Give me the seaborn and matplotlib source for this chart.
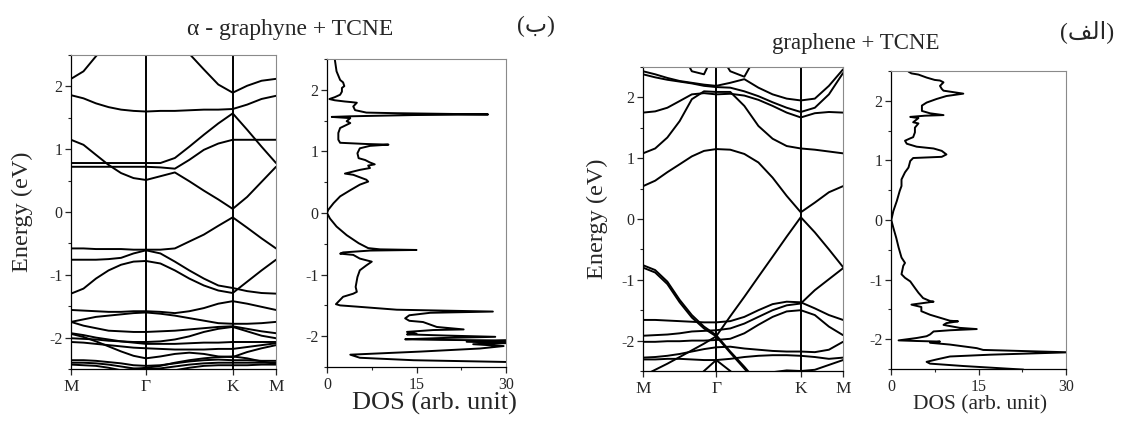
import matplotlib
matplotlib.use("Agg")
import matplotlib.pyplot as plt
import seaborn as sns
import pandas as pd
from matplotlib.ticker import MultipleLocator, NullLocator

# ---------------- data ----------------
# k-path sampling (M -> Gamma -> K -> M), path length units
K_GRID = [0.000, 0.096, 0.192, 0.289, 0.385, 0.481, 0.577,
          0.688, 0.799, 0.910, 1.022, 1.133, 1.244,
          1.355, 1.466, 1.577]
K_TICKS = [0.000, 0.577, 1.244, 1.577]
K_LABELS = ["M", "Γ", "K", "M"]

# alpha-graphyne + TCNE bands (eV)
GY_U1 = [2.12, 2.24, 2.48, 2.70, 2.90, 3.00, 3.05, 3.00, 2.80, 2.52, 2.27, 2.03, 1.90, 2.01, 2.09, 2.12]
GY_U2 = [1.86, 1.81, 1.73, 1.67, 1.63, 1.61, 1.60, 1.61, 1.61, 1.62, 1.63, 1.63, 1.64, 1.71, 1.80, 1.85]
GY_U3 = [0.78, 0.78, 0.78, 0.78, 0.78, 0.78, 0.78, 0.78, 0.86, 1.04, 1.23, 1.41, 1.57, 1.31, 1.04, 0.78]
GY_U4 = [0.72, 0.72, 0.72, 0.72, 0.72, 0.72, 0.72, 0.71, 0.69, 0.83, 0.99, 1.09, 1.15, 1.15, 1.15, 1.15]
GY_U5 = [1.15, 1.07, 0.91, 0.75, 0.62, 0.54, 0.51, 0.57, 0.63, 0.49, 0.34, 0.20, 0.05, 0.24, 0.48, 0.72]
GY_L1 = [-0.58, -0.58, -0.59, -0.59, -0.59, -0.60, -0.60, -0.60, -0.58, -0.47, -0.36, -0.22, -0.085, -0.25, -0.42, -0.58]
GY_L2 = [-0.76, -0.76, -0.76, -0.75, -0.73, -0.66, -0.61, -0.66, -0.79, -0.93, -1.06, -1.17, -1.21, -1.26, -1.29, -1.30]
GY_L3 = [-1.30, -1.22, -1.06, -0.93, -0.84, -0.79, -0.78, -0.82, -0.93, -1.06, -1.17, -1.25, -1.29, -1.11, -0.93, -0.76]
GY_L4 = [-1.56, -1.57, -1.58, -1.59, -1.59, -1.58, -1.58, -1.59, -1.61, -1.58, -1.53, -1.46, -1.42, -1.46, -1.51, -1.56]
GY_L5 = [-1.75, -1.71, -1.67, -1.65, -1.63, -1.61, -1.60, -1.62, -1.65, -1.69, -1.73, -1.77, -1.78, -1.78, -1.77, -1.75]
GY_L6 = [-1.75, -1.81, -1.85, -1.89, -1.90, -1.91, -1.91, -1.90, -1.89, -1.87, -1.85, -1.83, -1.82, -1.86, -1.90, -1.93]
GY_L7 = [-1.93, -1.96, -2.00, -2.03, -2.06, -2.07, -2.07, -2.06, -2.03, -1.98, -1.91, -1.86, -1.83, -1.90, -1.97, -2.01]
GY_L8 = [-2.01, -2.02, -2.03, -2.05, -2.06, -2.08, -2.10, -2.10, -2.10, -2.09, -2.08, -2.08, -2.07, -2.07, -2.07, -2.07]
GY_L9 = [-2.07, -2.08, -2.10, -2.12, -2.14, -2.16, -2.17, -2.18, -2.19, -2.19, -2.19, -2.18, -2.18, -2.15, -2.12, -2.09]
GY_L10 = [-1.94, -1.99, -2.06, -2.14, -2.22, -2.29, -2.33, -2.30, -2.26, -2.24, -2.26, -2.30, -2.31, -2.23, -2.17, -2.12]
GY_L11 = [-2.36, -2.36, -2.37, -2.39, -2.41, -2.44, -2.45, -2.44, -2.41, -2.38, -2.36, -2.35, -2.36, -2.36, -2.37, -2.37]
GY_L12 = [-2.40, -2.40, -2.41, -2.43, -2.46, -2.49, -2.50, -2.49, -2.46, -2.43, -2.41, -2.40, -2.40, -2.40, -2.40, -2.40]
GY_L13 = [-2.43, -2.44, -2.45, -2.48, -2.52, -2.56, -2.58, -2.56, -2.52, -2.48, -2.45, -2.44, -2.44, -2.44, -2.43, -2.43]
GY_L14 = [-2.60, -2.60, -2.58, -2.55, -2.52, -2.50, -2.48, -2.45, -2.40, -2.36, -2.33, -2.31, -2.30, -2.33, -2.38, -2.42]

# graphene + TCNE bands (eV)
GR_C1 = [0.54, 0.63, 0.77, 0.90, 1.03, 1.12, 1.15, 1.14, 1.07, 0.93, 0.68, 0.38, 0.11, 0.27, 0.44, 0.54]
GR_C2 = [1.08, 1.16, 1.34, 1.61, 1.97, 2.10, 2.09, 2.09, 1.86, 1.53, 1.32, 1.20, 1.16, 1.14, 1.11, 1.08]
GR_C3 = [1.75, 1.77, 1.83, 1.94, 2.05, 2.07, 2.05, 2.06, 2.03, 1.96, 1.86, 1.75, 1.67, 1.74, 1.76, 1.75]
GR_C4 = [2.38, 2.33, 2.29, 2.26, 2.23, 2.19, 2.17, 2.16, 2.10, 2.02, 1.92, 1.83, 1.76, 1.83, 2.05, 2.40]
GR_C5 = [2.43, 2.38, 2.32, 2.27, 2.24, 2.21, 2.19, 2.24, 2.30, 2.16, 2.05, 1.98, 1.95, 1.98, 2.19, 2.46]
GR_C6 = [3.00, 3.00, 3.00, 2.80, 2.43, 2.38, 2.80, 2.43, 2.34, 2.75, 3.00, 3.00, 3.00, 3.00, 3.00, 3.00]
GR_V1 = [-2.58, -2.48, -2.38, -2.27, -2.16, -2.05, -1.93, -1.60, -1.28, -0.95, -0.62, -0.29, 0.03, -0.22, -0.50, -0.79]
GR_V2 = [-0.76, -0.84, -1.03, -1.33, -1.58, -1.77, -1.91, -2.18, -2.43, -2.70, -2.90, -3.00, -3.00, -3.00, -3.00, -3.00]
GR_V2B = [-0.80, -0.88, -1.07, -1.37, -1.62, -1.80, -1.93, -2.20, -2.46, -2.72, -2.92, -3.00, -3.00, -3.00, -3.00, -3.00]
GR_V3 = [-1.92, -1.91, -1.90, -1.88, -1.85, -1.84, -1.83, -1.80, -1.72, -1.61, -1.50, -1.42, -1.39, -1.17, -0.99, -0.81]
GR_V4 = [-1.66, -1.66, -1.67, -1.68, -1.69, -1.70, -1.70, -1.68, -1.61, -1.50, -1.40, -1.36, -1.37, -1.47, -1.58, -1.66]
GR_V5 = [-2.02, -2.02, -2.01, -2.01, -2.00, -2.00, -1.99, -1.97, -1.88, -1.74, -1.61, -1.52, -1.50, -1.58, -1.77, -1.91]
GR_V6 = [-2.28, -2.27, -2.25, -2.22, -2.18, -2.14, -2.11, -2.10, -2.13, -2.15, -2.17, -2.18, -2.18, -2.19, -2.15, -2.02]
GR_V7 = [-2.31, -2.31, -2.30, -2.30, -2.31, -2.32, -2.32, -2.30, -2.27, -2.25, -2.24, -2.24, -2.25, -2.27, -2.30, -2.28]
GR_V8 = [-3.00, -3.00, -3.00, -2.90, -2.70, -2.50, -2.32, -2.50, -2.70, -2.90, -3.00, -3.00, -3.00, -3.00, -3.00, -3.00]
GR_V9 = [-2.70, -2.70, -2.68, -2.65, -2.62, -2.58, -2.55, -2.57, -2.58, -2.57, -2.52, -2.49, -2.50, -2.48, -2.40, -2.32]

# DOS curves (energy, DOS)
GY_DOS_E = [2.50, 2.30, 2.16, 2.12, 2.06, 2.03, 1.97, 1.92, 1.88, 1.85,
            1.83, 1.81, 1.80, 1.79, 1.73, 1.67, 1.63, 1.62, 1.60, 1.59,
            1.57, 1.56, 1.54, 1.49, 1.46, 1.38, 1.30, 1.19, 1.14, 1.12,
            1.11, 1.09, 1.05, 0.97, 0.89, 0.86, 0.82, 0.79, 0.77, 0.73,
            0.70, 0.64, 0.62, 0.54, 0.51, 0.46, 0.37, 0.27, 0.16, 0.05,
            0.00, -0.09, -0.22, -0.36, -0.49, -0.57, -0.59, -0.60, -0.61, -0.64,
            -0.66, -0.68, -0.74, -0.79, -0.85, -0.93, -1.04, -1.20, -1.28, -1.31,
            -1.36, -1.44, -1.48, -1.50, -1.52, -1.57, -1.60, -1.62, -1.66, -1.71,
            -1.75, -1.77, -1.85, -1.89, -1.90, -1.93, -1.96, -1.97, -1.99, -2.01,
            -2.03, -2.05, -2.06, -2.07, -2.09, -2.11, -2.13, -2.16, -2.20, -2.25,
            -2.30, -2.35, -2.39, -2.42, -2.50]
GY_DOS = [1.3, 1.6, 2.2, 2.7, 2.9, 2.5, 2.5, 2.2, 1.3, 0.4,
          1.3, 3.0, 4.1, 5.0, 4.4, 4.7, 6.6, 11.7, 27.0, 14.5,
          3.9, 0.8, 3.9, 3.3, 3.9, 2.2, 1.9, 1.9, 2.2, 6.6,
          10.3, 7.2, 5.5, 5.1, 5.3, 6.4, 7.2, 8.0, 6.9, 7.2,
          5.5, 3.0, 4.4, 6.6, 6.9, 5.5, 3.9, 2.2, 1.1, 0.2,
          0.0, 0.5, 1.6, 3.3, 5.3, 6.9, 8.9, 15.0, 7.2, 2.7,
          2.2, 4.4, 5.5, 7.5, 6.6, 5.5, 5.1, 4.8, 5.0, 4.4,
          2.7, 1.9, 1.5, 2.2, 5.0, 11.7, 27.8, 17.3, 13.8, 13.1,
          13.8, 16.1, 18.4, 22.9, 17.8, 13.4, 15.0, 13.4, 20.1, 28.2,
          19.0, 13.1, 19.0, 31.0, 23.4, 31.0, 24.5, 29.6, 25.6, 15.6,
          3.9, 5.5, 14.5, 31.0, 31.0]

GR_DOS_E = [2.49, 2.46, 2.44, 2.39, 2.35, 2.34, 2.31, 2.25, 2.20, 2.17,
            2.12, 2.08, 2.03, 1.97, 1.92, 1.83, 1.79, 1.76, 1.75, 1.73,
            1.71, 1.64, 1.62, 1.55, 1.47, 1.39, 1.37, 1.33, 1.28, 1.23,
            1.20, 1.16, 1.10, 1.06, 1.04, 0.99, 0.88, 0.80, 0.68, 0.57,
            0.49, 0.32, 0.15, 0.00, -0.13, -0.30, -0.46, -0.63, -0.72, -0.77,
            -0.91, -0.97, -1.03, -1.14, -1.22, -1.31, -1.36, -1.37, -1.39, -1.42,
            -1.46, -1.53, -1.59, -1.64, -1.69, -1.70, -1.73, -1.76, -1.81, -1.83,
            -1.85, -1.87, -1.92, -1.95, -1.98, -2.02, -2.03, -2.04, -2.06, -2.09,
            -2.12, -2.15, -2.18, -2.22, -2.26, -2.29, -2.34, -2.38, -2.41, -2.45,
            -2.51]
GR_DOS = [3.0, 3.5, 4.7, 6.1, 7.5, 8.4, 9.0, 8.4, 8.7, 9.0,
          12.4, 9.5, 7.8, 6.1, 5.3, 5.3, 6.7, 9.0, 5.8, 3.3,
          4.7, 3.8, 4.7, 4.1, 4.1, 3.8, 3.3, 2.4, 2.7, 4.4,
          7.3, 8.7, 9.5, 8.7, 3.8, 3.3, 3.0, 2.4, 1.8, 1.8,
          1.5, 1.0, 0.4, 0.05, 0.4, 0.9, 1.3, 1.8, 2.4, 2.1,
          1.8, 2.4, 3.3, 4.1, 4.7, 5.5, 6.7, 7.3, 5.8, 3.5,
          5.2, 5.2, 6.7, 8.4, 10.1, 11.5, 9.5, 9.0, 11.8, 14.7,
          10.1, 7.3, 6.7, 6.1, 4.4, 1.3, 4.4, 8.4, 6.7, 10.1,
          12.4, 14.7, 15.8, 30.5, 17.0, 10.1, 7.8, 6.1, 6.7, 12.4,
          22.7]

GY_BANDS = [GY_U1, GY_U2, GY_U3, GY_U4, GY_U5, GY_L1, GY_L2, GY_L3, GY_L4, GY_L5,
            GY_L6, GY_L7, GY_L8, GY_L9, GY_L10, GY_L11, GY_L12, GY_L13, GY_L14]
GR_BANDS = [GR_C1, GR_C2, GR_C3, GR_C4, GR_C5, GR_C6, GR_V1, GR_V2, GR_V2B, GR_V3,
            GR_V4, GR_V5, GR_V6, GR_V7, GR_V8, GR_V9]

# ---------------- style ----------------
sns.set_style("ticks")
plt.rcParams["font.family"] = ["Liberation Serif", "DejaVu Sans"]
plt.rcParams["axes.unicode_minus"] = False

W, H = 1123, 424
fig = plt.figure(figsize=(W / 100, H / 100), dpi=100)
fig.patch.set_facecolor("white")


def add_axes(x0, y0, x1, y1):
    return fig.add_axes([x0 / W, 1 - y1 / H, (x1 - x0) / W, (y1 - y0) / H])


def style(ax):
    for s in ["top", "right"]:
        ax.spines[s].set_color("#8a8a8a")
        ax.spines[s].set_linewidth(0.8)
    for s in ["left", "bottom"]:
        ax.spines[s].set_color("black")
        ax.spines[s].set_linewidth(0.9)
    ax.set_ylim(-2.5, 2.5)
    ax.yaxis.set_major_locator(MultipleLocator(1))
    ax.yaxis.set_minor_locator(MultipleLocator(0.5))
    ax.tick_params(which="major", direction="out", length=4, width=0.9,
                   labelsize=11.5, pad=2, top=False, right=False)
    ax.tick_params(axis="x", which="major", pad=3.5)
    ax.tick_params(which="minor", direction="out", length=2.5, width=0.8,
                   top=False, right=False)
    ax.set_facecolor("white")


def band_frame(bands):
    rows = []
    for i, b in enumerate(bands):
        for k, e in zip(K_GRID, b):
            rows.append((i, k, e))
    return pd.DataFrame(rows, columns=["band", "k", "E"])


def draw_bands(ax, bands, label_x):
    df = band_frame(bands)
    sns.lineplot(data=df, x="k", y="E", units="band", estimator=None, sort=False,
                 color="black", lw=1.4, ax=ax, legend=False)
    for kt in K_TICKS[1:-1]:
        ax.axvline(kt, color="black", lw=1.4)
    ax.set_xlim(K_TICKS[0], K_TICKS[-1])
    style(ax)
    ax.set_xticks(K_TICKS)
    ax.set_xticklabels(K_LABELS)
    ax.tick_params(axis="x", labelsize=12.5)
    ax.xaxis.set_minor_locator(NullLocator())
    ax.set_xlabel("")
    ax.set_ylabel("Energy (eV)", fontsize=17.5)
    ax.yaxis.set_label_coords(label_x, 0.5)


def draw_dos(ax, e, d, lab_x, lab_y, lab_size):
    sns.lineplot(x=d, y=e, sort=False, estimator=None, color="black", lw=1.4,
                 ax=ax, legend=False)
    ax.set_xlim(0, 30)
    style(ax)
    ax.set_xticks([0, 15, 30])
    ax.xaxis.set_minor_locator(MultipleLocator(7.5))
    ax.set_ylabel("")
    ax.set_xlabel("DOS (arb. unit)", fontsize=lab_size)
    ax.xaxis.set_label_coords(lab_x, lab_y)


ax_gb = add_axes(71, 55, 276, 369)
ax_gd = add_axes(327, 59, 506, 367)
ax_rb = add_axes(643, 67, 843, 371)
ax_rd = add_axes(891, 71, 1066, 369)

draw_bands(ax_gb, GY_BANDS, -0.185)
draw_bands(ax_rb, GR_BANDS, -0.175)
draw_dos(ax_gd, GY_DOS_E, GY_DOS, 0.60, -0.082, 19)
draw_dos(ax_rd, GR_DOS_E, GR_DOS, 0.51, -0.088, 15.5)

fig.text(290 / W, 1 - 30 / H, "α - graphyne + TCNE", ha="center", va="center", fontsize=17)
fig.text(856 / W, 1 - 43 / H, "graphene + TCNE", ha="center", va="center", fontsize=16.5)
fig.text(536 / W, 1 - 26 / H, "(ب)", ha="center", va="center", fontsize=17)
fig.text(1087 / W, 1 - 32 / H, "(ﻒﻟﺍ)", ha="center", va="center", fontsize=17)

fig.savefig("out.png", dpi=100, facecolor="white")
